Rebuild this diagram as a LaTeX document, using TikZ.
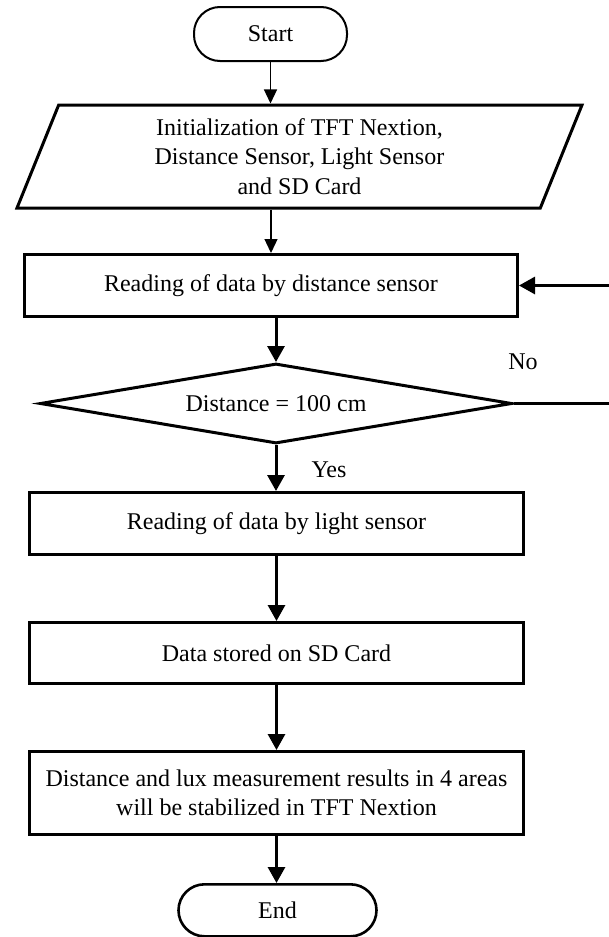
\documentclass[tikz,border=0pt]{standalone}
\usepackage{fontspec}
\setmainfont{Liberation Serif}
\usetikzlibrary{shapes.geometric,arrows.meta}
\tikzset{
    lab/.style={
        font=\fontsize{24}{29.5}\selectfont
    }
}

\begin{document}
\begin{tikzpicture}[x=1pt,y=-1pt]

% background
\useasboundingbox (0,0) rectangle (608,937);

\tikzset{
  box/.style={rectangle, draw=black, line width=3pt, lab, align=center, inner sep=0pt},
  term/.style={rectangle, rounded corners=26pt, draw=black, line width=2pt, lab, inner sep=0pt},
  io/.style={trapezium, trapezium left angle=61.3, trapezium right angle=118.7, trapezium stretches body,
    draw=black, line width=3pt, lab, align=center, inner sep=0pt},
  cond/.style={diamond, aspect=5.8, draw=black, line width=3pt, lab, inner sep=0pt},
  arr/.style={-{Triangle[length=16pt,width=17pt]}, line width=3pt},
  arrlight/.style={-{Triangle[length=14pt,width=13pt]}, line width=1.3pt},
}

% nodes
\node[term, minimum width=153, minimum height=54] (start) at (270.5,34) {Start};
\node[io, minimum width=565, minimum height=103] (init) at (299.5,156.5)
  {Initialization of TFT Nextion,\\Distance Sensor, Light Sensor\\and SD Card};
\node[box, minimum width=493, minimum height=62] (dist) at (271,285.5) {Reading of data by distance sensor};
\node[cond, minimum width=472, minimum height=80] (check) at (276,403.5) {Distance = 100 cm};
\node[box, minimum width=494, minimum height=62] (light) at (276.5,523.5) {Reading of data by light sensor};
\node[box, minimum width=494, minimum height=61] (store) at (276.5,653) {Data stored on SD Card};
\node[box, minimum width=494, minimum height=83] (result) at (276.5,793)
  {Distance and lux measurement results in 4 areas\\will be stabilized in TFT Nextion};
\node[term, line width=2.6pt, minimum width=198, minimum height=52] (stop) at (277.5,910.3) {End};

% loop back, its corner lies past the right edge
\coordinate (back) at (612,403.5);

% arrows
\draw[arrlight] (start.south) -- (start.south |- init.north);
\draw[arrlight] (init.south -| dist.north) -- (dist.north);
\draw[arr] (dist.south -| check.north) -- (check.north);
\draw[arr] (check.south) -- (check.south |- light.north);
\draw[arr] (light.south) -- (store.north);
\draw[arr] (store.south) -- (result.north);
\draw[arr] (result.south) -- (result.south |- stop.north);
\draw[arr] (check.east) -- (back) |- (dist.east);

% labels
\node[lab] (nolab) at (523,362) {No};
\node[lab] (yeslab) at (329,470) {Yes};

\end{tikzpicture}
\end{document}
